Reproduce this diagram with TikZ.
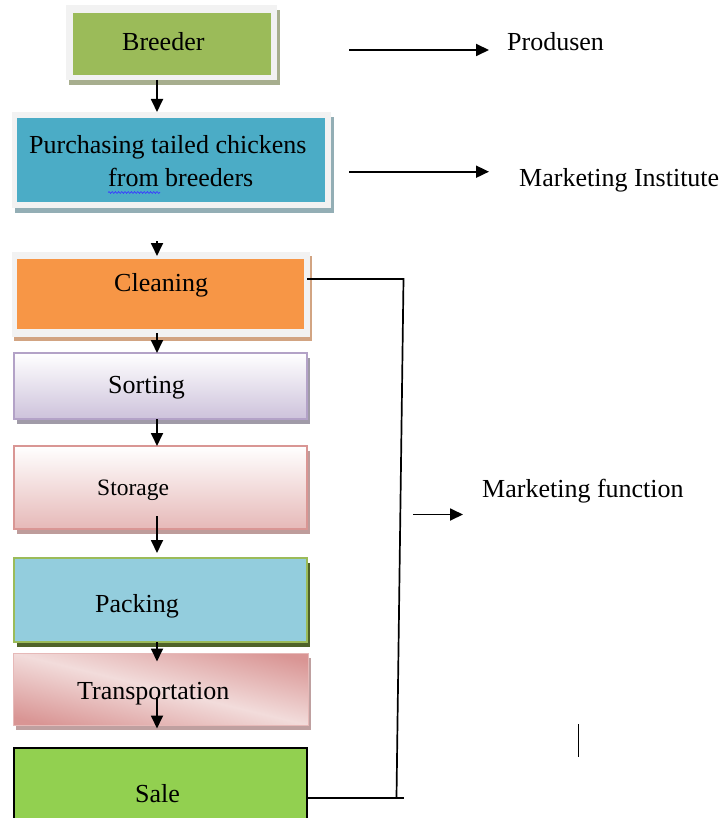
\documentclass[tikz,border=0pt]{standalone}
\usepackage{fontspec}
\setmainfont{Liberation Serif}
\usetikzlibrary{arrows.meta,shadows,decorations.pathmorphing}
\definecolor{frm}{HTML}{F2F2F2}
\definecolor{brgreen}{HTML}{9BBB59}
\definecolor{brshadow}{HTML}{A7AE8E}
\definecolor{pblue}{HTML}{4BACC6}
\definecolor{pshadow}{HTML}{93AEB5}
\definecolor{corange}{HTML}{F79646}
\definecolor{cshadow}{HTML}{D2A482}
\definecolor{sborder}{HTML}{B3A2C7}
\definecolor{sbottom}{HTML}{CDC2DB}
\definecolor{sshadow}{HTML}{A09BA8}
\definecolor{stborder}{HTML}{D99694}
\definecolor{stbottom}{HTML}{E6B9B8}
\definecolor{stshadow}{HTML}{BE9C9B}
\definecolor{pkfill}{HTML}{93CDDD}
\definecolor{pkshadow}{HTML}{4F6228}
\definecolor{trdark}{HTML}{D99594}
\definecolor{trlight}{HTML}{F2DCDB}
\definecolor{trshadow}{HTML}{BFA0A0}
\definecolor{salegreen}{HTML}{92D050}
\definecolor{squig}{HTML}{3B3BFF}
\begin{document}
\begin{tikzpicture}[x=1pt,y=-1pt,
  boxbase/.style={rectangle, inner sep=0pt, outer sep=0pt},
  framebox/.style={boxbase, fill=frm},
  shad/.style={drop shadow={shadow xshift=2.5pt, shadow yshift=-5pt, opacity=1, fill=#1}},
  lbl/.style={inner sep=0pt, anchor=base west, font=\fontsize{26}{31}\selectfont},
  arr/.style={line width=1.8pt, -{Triangle[width=12pt,length=13pt]}},
  bline/.style={line width=1.7pt}]
\useasboundingbox (0,0) rectangle (721,818);
\clip (0,0) rectangle (721,818);
\coordinate (ax) at (157,0);
% boxes
\node[framebox, shad=brshadow, minimum width=211pt, minimum height=75pt] (breeder) at (171.5,42.5) {};
\node[framebox, shad=pshadow, minimum width=319pt, minimum height=96pt] (purch) at (171.5,160) {};
\node[framebox, drop shadow={shadow xshift=2pt, shadow yshift=-4pt, opacity=1, fill=cshadow}, minimum width=298pt, minimum height=85pt] (clean) at (161,294.5) {};
\node[boxbase, shad=sshadow, draw=sborder, line width=1.2pt, top color=white, bottom color=sbottom, minimum width=293pt, minimum height=66pt] (sort) at (160.5,386) {};
\node[boxbase, shad=stshadow, draw=stborder, line width=1.2pt, top color=white, bottom color=stbottom, minimum width=293pt, minimum height=83pt] (stor) at (160.5,487.5) {};
\node[boxbase, shad=pkshadow, draw=brgreen, line width=1.2pt, fill=pkfill, minimum width=293pt, minimum height=84pt] (pack) at (160.5,600) {};
\node[boxbase, shad=trshadow, fill=trdark, minimum width=295pt, minimum height=72pt] (trans) at (160.5,689) {};
\begin{scope}
  \clip (trans.north west) rectangle (trans.south east);
  \shade[transform canvas={shift={(160.5,689)}, rotate=-13.7}, top color=trdark, bottom color=trdark, middle color=trlight] (-350,-62) rectangle (350,62);
\end{scope}
\draw[stbottom, line width=1pt] (trans.north west) rectangle (trans.south east);
\node[boxbase, draw=black, line width=1.3pt, fill=salegreen, minimum width=293pt, minimum height=84pt] (sale) at (160.5,790) {};
% inner fills of framed boxes
\fill[brgreen] ([shift={(6.5,8)}]breeder.north west) rectangle ([shift={(-6.5,-5)}]breeder.south east);
\fill[pblue] ([shift={(5,6)}]purch.north west) rectangle ([shift={(-6,-6)}]purch.south east);
\fill[corange] ([shift={(5,7)}]clean.north west) rectangle ([shift={(-6,-8)}]clean.south east);
% texts
\node[lbl] (tbreeder) at (122,50.7) {Breeder};
\node[lbl] (tpurch1) at (29,153.3) {Purchasing tailed chickens};
\node[lbl] (tpurch2) at (108,187) {from breeders};
\draw[squig, line width=0.7pt, decorate, decoration={snake, amplitude=0.9pt, segment length=3.2pt}] (108,192.5) -- (160,192.5);
\node[lbl] (tclean) at (114,291.7) {Cleaning};
\node[lbl] (tsort) at (108,393) {Sorting};
\node[lbl, font=\fontsize{23.5}{28}\selectfont] (tstor) at (97,495.7) {Storage};
\node[lbl] (tpack) at (95,612.7) {Packing};
\node[lbl] (ttrans) at (77,699.3) {Transportation};
\node[lbl] (tsale) at (135,802.3) {Sale};
\node[lbl] (tprod) at (507,50.7) {Produsen};
\node[lbl] (tinst) at (519,186.7) {Marketing Institute};
\node[lbl] (tfunc) at (482,497.5) {Marketing function};
% flow arrows
\coordinate (c2) at (157,241);
\coordinate (c2e) at (157,256);
\coordinate (c3) at (157,333);
\coordinate (c5) at (157,516);
\coordinate (c5e) at (157,553);
\coordinate (c6e) at (157,661.5);
\coordinate (c7) at (157,697);
\coordinate (c7e) at (157,728.5);
\draw[arr] (breeder.south -| ax) -- (purch.north -| ax);
\draw[arr] (c2) -- (c2e);
\draw[arr] (c3) -- (sort.north -| ax);
\draw[arr] (sort.south -| ax) -- (stor.north -| ax);
\draw[arr] (c5) -- (c5e);
\draw[arr] (pack.south -| ax) -- (c6e);
\draw[arr] (c7) -- (c7e);
% right side arrows
\coordinate (p1) at (349,50);
\coordinate (p2) at (489,50);
\coordinate (m1) at (349,171.7);
\coordinate (m2) at (489,171.7);
\coordinate (f1) at (413,514.5);
\coordinate (f2) at (463,514.5);
\draw[arr] (p1) -- (p2);
\draw[arr] (m1) -- (m2);
\draw[arr] (f1) -- (f2);
% bracket
\coordinate (bk1) at (403.5,279);
\coordinate (bk2) at (396.5,797);
\coordinate (bk3) at (403.5,798);
\draw[bline] ([xshift=-3pt]bk1 -| clean.east) -- (bk1) -- (bk2);
\draw[bline] (sale.east |- bk3) -- (bk3);
% small vertical mark
\coordinate (v1) at (578,724);
\coordinate (v2) at (578,757);
\draw[line width=0.9pt] (v1) -- (v2);
\end{tikzpicture}
\end{document}
